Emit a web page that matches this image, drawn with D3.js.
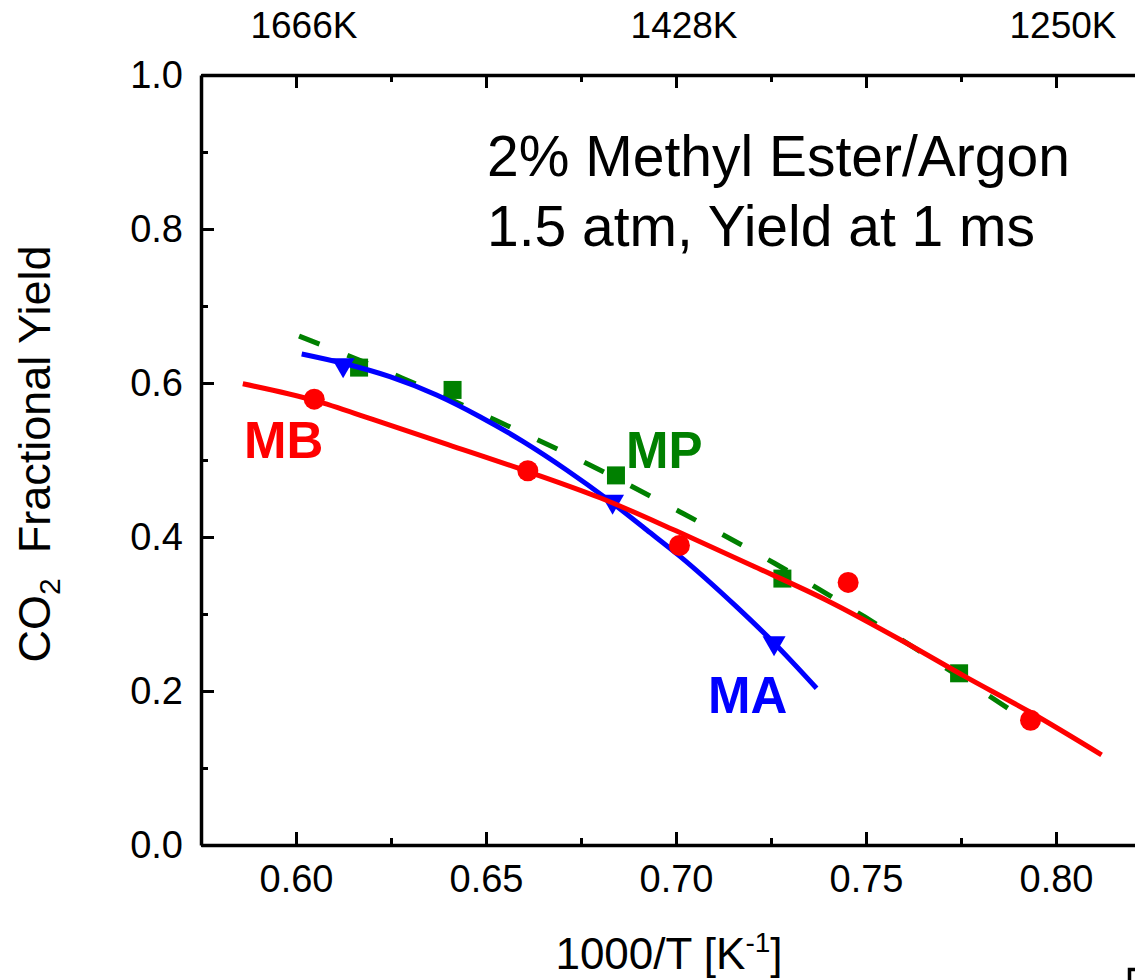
<!DOCTYPE html>
<html><head><meta charset="utf-8">
<script src="https://cdn.jsdelivr.net/npm/d3@7"></script>
<style>
body{margin:0;background:#fff}
svg{display:block;background:#fff}
text{font-family:"Liberation Sans",Arial,Helvetica,sans-serif}
</style>
</head><body>
<svg id="chart" width="1135" height="980"></svg>
<script>
// ---- data ----
const xMajorTicks = [0.60, 0.65, 0.70, 0.75, 0.80];
const xMinorTicks = [0.625, 0.675, 0.725, 0.775];
const yMajorTicks = [0.0, 0.2, 0.4, 0.6, 0.8, 1.0];
const yMinorTicks = [0.1, 0.3, 0.5, 0.7, 0.9];
const topLabels = ["1666K", "1428K", "1250K"];
const topLabelPos = [1000/1666, 1000/1428, 1000/1250];

// MB (methyl butanoate) points and fit
const mbX = [0.6048, 0.6610, 0.7009, 0.7453, 0.7933];
const mbY = [0.579, 0.486, 0.389, 0.341, 0.162];
const mbFitX = [0.586, 0.605, 0.620, 0.640, 0.661, 0.680, 0.700, 0.720, 0.740, 0.760, 0.776, 0.793, 0.812];
const mbFitY = [0.599, 0.577, 0.553, 0.520, 0.485, 0.451, 0.408, 0.363, 0.317, 0.264, 0.219, 0.173, 0.117];

// MP (methyl propanoate) points and fit
const mpX = [0.6166, 0.6412, 0.6842, 0.7280, 0.7745];
const mpY = [0.620, 0.591, 0.480, 0.346, 0.223];
const mpFitX = [0.6008, 0.6279, 0.6524, 0.6768, 0.7011, 0.7258, 0.7497, 0.7739, 0.7889];
const mpFitY = [0.661, 0.6065, 0.5519, 0.4948, 0.4325, 0.3662, 0.2961, 0.2208, 0.1727];

// MA (methyl acetate) points and fit
const maX = [0.6124, 0.6833, 0.7258];
const maY = [0.619, 0.442, 0.258];
const maFitX = [0.6015, 0.6124, 0.6247, 0.6370, 0.6484, 0.6598, 0.6712, 0.6822, 0.6923, 0.7009, 0.7159, 0.7258, 0.7370];
const maFitY = [0.6377, 0.6256, 0.6082, 0.5844, 0.5562, 0.5238, 0.4870, 0.4481, 0.4091, 0.3755, 0.3095, 0.2623, 0.2035];

const seriesLabels = ["MB", "MP", "MA"];
const titleLines = ["2% Methyl Ester/Argon", "1.5 atm, Yield at 1 ms"];

// ---- drawing ----
const RED = "#ff0000", GREEN = "#008000", BLUE = "#0000ff";
const svg = d3.select("#chart");
const x = d3.scaleLinear().domain([0.575, 0.825]).range([201, 1151]);
const y = d3.scaleLinear().domain([0, 1]).range([845, 75]);
const FONT = '"Liberation Sans",Arial,Helvetica,sans-serif';

function styleAxis(g, fs) {
  g.select(".domain").attr("stroke", "#000").attr("stroke-width", 3.5);
  g.selectAll(".tick line").attr("stroke", "#000").attr("stroke-width", 3);
  g.selectAll(".tick text").attr("font-size", fs).attr("fill", "#000").attr("font-family", FONT);
}

// bottom axis
svg.append("g").attr("transform", "translate(0,845)")
  .call(d3.axisBottom(x).tickValues(xMajorTicks).tickSizeInner(-13).tickSizeOuter(0)
    .tickPadding(20).tickFormat(d3.format(".2f")))
  .call(g => styleAxis(g, 38));
svg.append("g").attr("transform", "translate(0,845)")
  .call(d3.axisBottom(x).tickValues(xMinorTicks).tickSize(-7).tickFormat(""))
  .call(g => { styleAxis(g, 38); g.select(".domain").remove(); });

// top axis
svg.append("g").attr("transform", "translate(0,75)")
  .call(d3.axisTop(x).tickValues(xMajorTicks).tickSizeInner(-13).tickSizeOuter(0).tickFormat(""))
  .call(g => styleAxis(g, 38));
svg.append("g").attr("transform", "translate(0,75)")
  .call(d3.axisTop(x).tickValues(xMinorTicks).tickSize(-7).tickFormat(""))
  .call(g => { styleAxis(g, 38); g.select(".domain").remove(); });

// left axis
svg.append("g").attr("transform", "translate(201,0)")
  .call(d3.axisLeft(y).tickValues(yMajorTicks).tickSizeInner(-13).tickSizeOuter(0)
    .tickPadding(18).tickFormat(d3.format(".1f")))
  .call(g => styleAxis(g, 38));
svg.append("g").attr("transform", "translate(201,0)")
  .call(d3.axisLeft(y).tickValues(yMinorTicks).tickSize(-7).tickFormat(""))
  .call(g => { styleAxis(g, 38); g.select(".domain").remove(); });

// right axis (outside visible area)
svg.append("g").attr("transform", "translate(" + x(0.825) + ",0)")
  .call(d3.axisRight(y).tickValues(yMajorTicks).tickSizeInner(-13).tickSizeOuter(0).tickFormat(""))
  .call(g => styleAxis(g, 38));

// top temperature labels
svg.append("g").selectAll("text").data(topLabels).join("text")
  .attr("x", (d, i) => x(topLabelPos[i]) + 7)
  .attr("y", 38)
  .attr("text-anchor", "middle")
  .attr("font-size", 37)
  .attr("fill", "#000")
  .text(d => d);

// axis titles
const xt = svg.append("text").attr("x", 669).attr("y", 969)
  .attr("text-anchor", "middle").attr("font-size", 44).attr("fill", "#000");
xt.append("tspan").text("1000/T [K");
xt.append("tspan").attr("font-size", 28).attr("dy", -17).text("-1");
xt.append("tspan").attr("dy", 17).text("]");

const yt = svg.append("text").attr("transform", "translate(50,454) rotate(-90)")
  .attr("text-anchor", "middle").attr("font-size", 45).attr("fill", "#000")
  .attr("xml:space", "preserve");
yt.append("tspan").text("CO");
yt.append("tspan").attr("font-size", 30).attr("dy", 10).text("2");
yt.append("tspan").attr("dy", -10).text("\u00a0 Fractional Yield");

// title
svg.append("g").selectAll("text").data(titleLines).join("text")
  .attr("x", 487).attr("y", (d, i) => 176 + i * 70)
  .attr("font-size", 57).attr("fill", "#000").text(d => d);

// curves
const zip = (a, b) => a.map((v, i) => [v, b[i]]);
const line = d3.line().x(d => x(d[0])).y(d => y(d[1])).curve(d3.curveMonotoneX);

// MP (green dashed, bottom layer)
svg.append("path").attr("d", line(zip(mpFitX, mpFitY)))
  .attr("fill", "none").attr("stroke", GREEN).attr("stroke-width", 5)
  .attr("stroke-dasharray", "22 30");
svg.append("g").selectAll("rect").data(zip(mpX, mpY)).join("rect")
  .attr("x", d => x(d[0]) - 9).attr("y", d => y(d[1]) - 9)
  .attr("width", 18).attr("height", 18).attr("fill", GREEN);

// MA (blue)
svg.append("path").attr("d", line(zip(maFitX, maFitY)))
  .attr("fill", "none").attr("stroke", BLUE).attr("stroke-width", 5);
svg.append("g").selectAll("path").data(zip(maX, maY)).join("path")
  .attr("d", d => {
    const cx = x(d[0]), cy = y(d[1]);
    return `M${cx - 11.5},${cy - 10}L${cx + 11.5},${cy - 10}L${cx},${cy + 10}Z`;
  })
  .attr("fill", BLUE);

// MB (red, top)
svg.append("path").attr("d", line(zip(mbFitX, mbFitY)))
  .attr("fill", "none").attr("stroke", RED).attr("stroke-width", 5);
svg.append("g").selectAll("circle").data(zip(mbX, mbY)).join("circle")
  .attr("cx", d => x(d[0])).attr("cy", d => y(d[1])).attr("r", 10.5).attr("fill", RED);

// series labels
const labelPos = [[244, 458, RED], [626, 468, GREEN], [708, 713, BLUE]];
svg.append("g").selectAll("text").data(seriesLabels).join("text")
  .attr("x", (d, i) => labelPos[i][0]).attr("y", (d, i) => labelPos[i][1])
  .attr("fill", (d, i) => labelPos[i][2])
  .attr("font-size", 51).attr("font-weight", "bold").text(d => d);

// corner of an adjacent box at bottom-right edge
svg.append("path").attr("d", "M1129.5,981V969.5H1140")
  .attr("fill", "none").attr("stroke", "#000").attr("stroke-width", 3.5);
</script>
</body></html>
